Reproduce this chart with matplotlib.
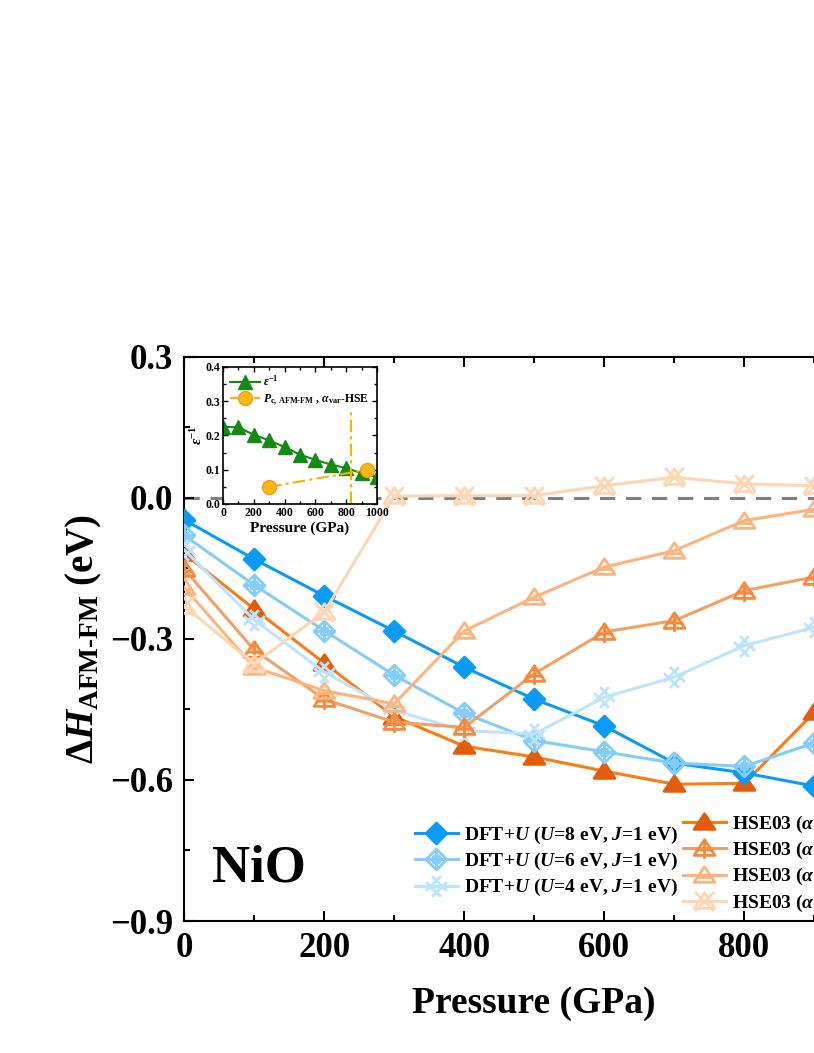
import matplotlib
matplotlib.use('Agg')
import matplotlib.pyplot as plt
import numpy as np
from matplotlib.path import Path
from matplotlib.ticker import MultipleLocator

plt.rcParams['font.family'] = ['Liberation Serif', 'DejaVu Serif']
plt.rcParams['font.weight'] = 'bold'
plt.rcParams['axes.labelweight'] = 'bold'
plt.rcParams['mathtext.fontset'] = 'custom'
plt.rcParams['mathtext.rm'] = 'Liberation Serif:bold'
plt.rcParams['mathtext.it'] = 'Liberation Serif:italic:bold'
plt.rcParams['mathtext.bf'] = 'Liberation Serif:bold'

# main panel data (eV)
pressure = [0, 100, 200, 300, 400, 500, 600, 700, 800, 900]
dft_u8 = [-0.046, -0.130, -0.208, -0.283, -0.360, -0.428, -0.485, -0.564, -0.585, -0.613]
dft_u6 = [-0.079, -0.185, -0.282, -0.377, -0.458, -0.516, -0.540, -0.564, -0.571, -0.521]
dft_u4 = [-0.110, -0.259, -0.370, -0.452, -0.495, -0.502, -0.424, -0.381, -0.314, -0.275]
hse_a = [-0.118, -0.236, -0.351, -0.465, -0.528, -0.551, -0.581, -0.609, -0.607, -0.456]
hse_b = [-0.151, -0.323, -0.428, -0.477, -0.488, -0.374, -0.285, -0.261, -0.197, -0.168]
hse_c = [-0.190, -0.360, -0.410, -0.438, -0.283, -0.211, -0.147, -0.112, -0.048, -0.024]
hse_d = [-0.229, -0.353, -0.243, 0.004, 0.005, 0.005, 0.026, 0.044, 0.030, 0.026]

dft_labels = [r'DFT+$U$ ($U$=8 eV, $J$=1 eV)',
              r'DFT+$U$ ($U$=6 eV, $J$=1 eV)',
              r'DFT+$U$ ($U$=4 eV, $J$=1 eV)']
hse_labels = [r'HSE03 ($\alpha$=0.25)', r'HSE03 ($\alpha$=0.20)',
              r'HSE03 ($\alpha$=0.15)', r'HSE03 ($\alpha$=0.10)']

# inset data
eps_pressure = [0, 100, 200, 300, 400, 500, 600, 700, 800, 900, 1000]
eps_inv = [0.225, 0.224, 0.202, 0.186, 0.166, 0.144, 0.129, 0.115, 0.105, 0.090, 0.079]
pc_pressure = [300, 935]
pc_alpha = [0.05, 0.10]
pc_line_p = 830
pc_line_top = 0.27


def marker_path(polys=(), segs=()):
  verts, codes = [], []
  for poly in polys:
    verts += list(poly) + [poly[0]]
    codes += [Path.MOVETO] + [Path.LINETO] * (len(poly) - 1) + [Path.CLOSEPOLY]
  for a, b in segs:
    verts += [a, b]
    codes += [Path.MOVETO, Path.LINETO]
  return Path(verts, codes)


diamond = [(0, 0.5), (0.5, 0), (0, -0.5), (-0.5, 0)]
tri = [(0, 0.42), (-0.5, -0.33), (0.5, -0.33)]
ring = [(0.2 * np.cos(t), 0.2 * np.sin(t)) for t in np.linspace(0, 2 * np.pi, 9)[:-1]]

m_diamond = marker_path([diamond])
m_diamond_plus = marker_path([diamond, ring], [((-0.5, 0), (0.5, 0)), ((0, -0.5), (0, 0.5))])
hash_segs = []
for o in (-0.2, 0.2):
  hash_segs.append((((-0.5 + o) / 1.414, (-0.5 - o) / 1.414), ((0.5 + o) / 1.414, (0.5 - o) / 1.414)))
  hash_segs.append((((-0.5 + o) / 1.414, (0.5 + o) / 1.414), ((0.5 + o) / 1.414, (-0.5 + o) / 1.414)))
m_hash = marker_path([], hash_segs)
m_tri = marker_path([tri])
m_tri_plus = marker_path([tri], [((0, 0.42), (0, -0.5)), ((-0.42, -0.08), (0.42, -0.08))])
m_tri_line = marker_path([tri], [((-0.34, -0.1), (0.34, -0.1))])
m_tri_x = marker_path([tri], [((-0.45, 0.45), (0.45, -0.45)), ((-0.45, -0.45), (0.45, 0.45))])

fig = plt.figure(figsize=(8.14, 10.53), dpi=100)
ax = fig.add_axes([184 / 814, 132 / 1053, 700.5 / 814, 564 / 1053])

ms = 15
mew = 2.0
lw = 2.2

ax.axhline(0, color='#808080', ls=(0, (5, 3.5)), lw=2.2, zorder=1)

styles = [
    (hse_a, m_tri, '#E35C0C', '#FB7D12', True, 'a'),
    (dft_u8, m_diamond, '#0A9BF7', '#0A9BF7', True, 'u8'),
    (dft_u6, m_diamond_plus, '#84CCFA', '#84CCFA', False, 'u6'),
    (dft_u4, m_hash, '#BCE5FD', '#BCE5FD', False, 'u4'),
    (hse_b, m_tri_plus, '#F5893C', '#F2A064', False, 'b'),
    (hse_c, m_tri_line, '#FDB47C', '#FDB47C', False, 'c'),
    (hse_d, m_tri_x, '#FDD6B4', '#FDD6B4', False, 'd'),
]
handles = {}
for i, (vals, mk, mc, lc, filled, key) in enumerate(styles):
  ax.plot(pressure, vals, '-', color=lc, lw=lw, zorder=2 + i)
  h, = ax.plot(pressure, vals, ls='none', marker=mk, ms=ms, mew=mew,
               mec=mc, mfc=mc if filled else 'none', zorder=2 + i)
  handles[key] = (plt.Line2D([], [], color=lc, lw=lw), h)

ax.set_xlim(0, 1000)
ax.set_ylim(-0.9, 0.3)
ax.set_yticks([-0.9, -0.6, -0.3, 0.0, 0.3])
ax.set_xticks([0, 200, 400, 600, 800, 1000])
ax.xaxis.set_minor_locator(MultipleLocator(100))
ax.yaxis.set_minor_locator(MultipleLocator(0.15))
ax.tick_params(which='both', direction='in', top=True, right=True, width=1.5,
               labelsize=25)
ax.tick_params(which='major', length=7, pad=8)
ax.tick_params(which='minor', length=4)
for s in ax.spines.values():
  s.set_linewidth(1.5)

ax.set_xlabel('Pressure (GPa)', fontsize=27, labelpad=15)
ax.set_ylabel(r'$\Delta H_{\mathrm{AFM\text{-}FM}}$ (eV)', fontsize=28)
ax.yaxis.set_label_coords(-0.114, 0.5)
ax.text(0.04, 0.07, 'NiO', transform=ax.transAxes, fontsize=38,
        fontweight='bold')

leg1 = fig.legend([handles[k] for k in ('u8', 'u6', 'u4')], dft_labels,
                  loc='upper left', bbox_to_anchor=(415 / 814, 1 - 825 / 1053),
                  fontsize=14, frameon=False, handlelength=2.2,
                  handletextpad=0.3, labelspacing=0.26, borderpad=0,
                  borderaxespad=0)
leg2 = fig.legend([handles[k] for k in ('a', 'b', 'c', 'd')], hse_labels,
                  loc='upper left', bbox_to_anchor=(683 / 814, 1 - 814 / 1053),
                  fontsize=14, frameon=False, handlelength=2.2,
                  handletextpad=0.3, labelspacing=0.26, borderpad=0,
                  borderaxespad=0)

# inset
axi = fig.add_axes([223 / 814, (1053 - 504) / 1053, 154 / 814, 137 / 1053])
axi.plot(eps_pressure, eps_inv, '-^', color='#138A13', ms=10, lw=1.5,
         label=r'$\varepsilon^{-1}$')
axi.plot(pc_pressure, pc_alpha, ls=(0, (6, 2, 1.5, 2)), color='#FFB000', lw=1.5,
         marker='o', ms=10, mfc='#FFB81C', mec='#F0A000',
         label=r'$P_{\mathrm{c,\,AFM\text{-}FM}}$ , $\alpha_{\mathrm{var}}$-HSE')
axi.plot([pc_line_p, pc_line_p], [0, pc_line_top], ls=(0, (6, 2, 1.5, 2)),
         color='#FFB000', lw=1.5)
axi.set_xlim(0, 1000)
axi.set_ylim(0, 0.4)
axi.set_xticks([0, 200, 400, 600, 800, 1000])
axi.set_yticks([0.0, 0.1, 0.2, 0.3, 0.4])
axi.xaxis.set_minor_locator(MultipleLocator(100))
axi.yaxis.set_minor_locator(MultipleLocator(0.05))
axi.tick_params(which='both', direction='in', top=True, right=True, width=1,
                labelsize=8.5, pad=2)
axi.tick_params(which='major', length=3.5)
axi.tick_params(which='minor', length=2)
for s in axi.spines.values():
  s.set_linewidth(1.2)
axi.set_xlabel('Pressure (GPa)', fontsize=11, labelpad=2)
axi.set_ylabel(r'$\varepsilon^{-1}$', fontsize=11, labelpad=0)
axi.legend(loc='upper left', fontsize=8.5, frameon=False, handlelength=2.5,
           handletextpad=0.3, labelspacing=0.3, borderaxespad=0.2)

fig.savefig('out.png', dpi=100)
